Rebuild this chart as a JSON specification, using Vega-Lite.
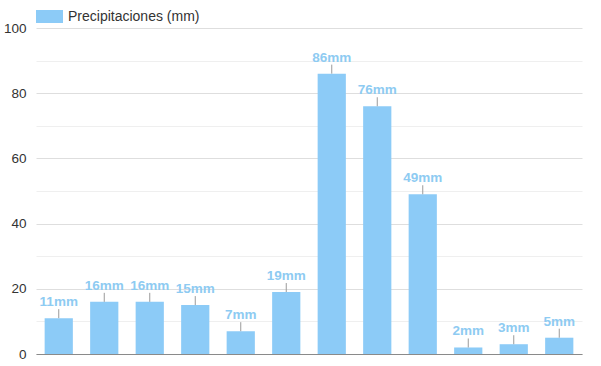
{
  "$schema": "https://vega.github.io/schema/vega-lite/v6.json",
  "width": 546,
  "height": 326,
  "autosize": {"type": "none"},
  "padding": {"left": 36, "top": 28, "right": 19, "bottom": 12},
  "background": "white",
  "config": {
    "view": {"stroke": null},
    "font": "Liberation Sans"
  },
  "data": {
    "values": [
      {"mes": "Ene", "mm": 11, "etiqueta": "11mm"},
      {"mes": "Feb", "mm": 16, "etiqueta": "16mm"},
      {"mes": "Mar", "mm": 16, "etiqueta": "16mm"},
      {"mes": "Abr", "mm": 15, "etiqueta": "15mm"},
      {"mes": "May", "mm": 7, "etiqueta": "7mm"},
      {"mes": "Jun", "mm": 19, "etiqueta": "19mm"},
      {"mes": "Jul", "mm": 86, "etiqueta": "86mm"},
      {"mes": "Ago", "mm": 76, "etiqueta": "76mm"},
      {"mes": "Sep", "mm": 49, "etiqueta": "49mm"},
      {"mes": "Oct", "mm": 2, "etiqueta": "2mm"},
      {"mes": "Nov", "mm": 3, "etiqueta": "3mm"},
      {"mes": "Dic", "mm": 5, "etiqueta": "5mm"}
    ]
  },
  "encoding": {
    "x": {
      "field": "mes",
      "type": "ordinal",
      "sort": null,
      "scale": {"paddingInner": 0.38, "paddingOuter": 0.19},
      "axis": {
        "title": null,
        "labels": false,
        "ticks": false,
        "domainColor": "#8a8a8a",
        "domainWidth": 1.2
      }
    },
    "y": {
      "field": "mm",
      "type": "quantitative",
      "scale": {"domain": [0, 100], "nice": false},
      "axis": {
        "title": null,
        "values": [0, 10, 20, 30, 40, 50, 60, 70, 80, 90, 100],
        "labelExpr": "datum.value % 20 === 0 ? datum.label : ''",
        "gridColor": {"condition": {"test": "datum.value % 20 === 0", "value": "#dedede"}, "value": "#efefef"},
        "domain": false,
        "ticks": false,
        "labelPadding": 10,
        "labelFontSize": 13.5,
        "labelColor": "#333333",
        "labelFont": "Liberation Sans"
      }
    }
  },
  "layer": [
    {
      "mark": {"type": "bar"},
      "encoding": {
        "color": {
          "datum": "Precipitaciones (mm)",
          "type": "nominal",
          "scale": {"range": ["#8ccbf7"]},
          "legend": {
            "title": null,
            "orient": "none",
            "legendX": 0,
            "legendY": -25,
            "symbolType": "M-1,-0.48H1V0.48H-1Z",
            "symbolSize": 729,
            "symbolStrokeWidth": 0,
            "labelFontSize": 14,
            "labelColor": "#333333",
            "labelFont": "Liberation Sans",
            "labelOffset": 5
          }
        }
      }
    },
    {
      "mark": {"type": "rule", "color": "#9a9a9a", "strokeWidth": 1, "y2Offset": -9},
      "encoding": {"y2": {"field": "mm"}}
    },
    {
      "mark": {"type": "text", "dy": -12, "baseline": "alphabetic", "fontSize": 13.5, "fontWeight": "bold", "color": "#8ecbf2", "font": "Liberation Sans"},
      "encoding": {"text": {"field": "etiqueta", "type": "nominal"}}
    }
  ]
}
